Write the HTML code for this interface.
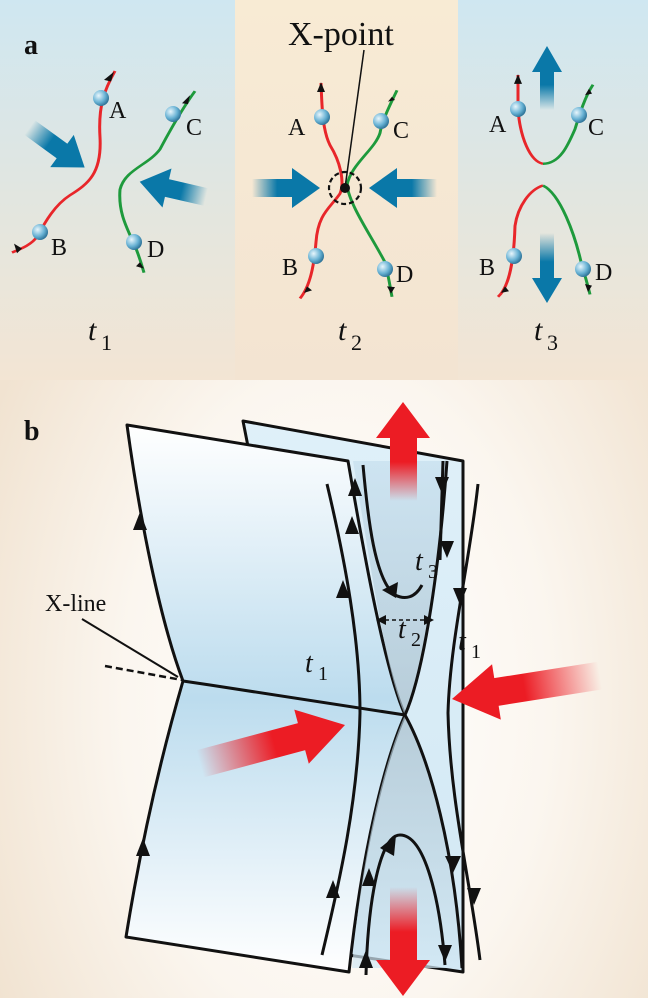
<!DOCTYPE html>
<html><head><meta charset="utf-8"><style>
html,body{margin:0;padding:0;width:648px;height:998px;overflow:hidden;background:#f3e7d6}
svg{display:block}
text{font-family:"Liberation Serif",serif;fill:#111}
</style></head><body>
<svg width="648" height="998" viewBox="0 0 648 998" xmlns="http://www.w3.org/2000/svg">
<defs>
<linearGradient id="bgL" x1="0" y1="0" x2="0" y2="1"><stop offset="0" stop-color="#cfe7f1"/><stop offset="0.55" stop-color="#e3e6df"/><stop offset="1" stop-color="#f3e5d4"/></linearGradient>
<linearGradient id="bgC" x1="0" y1="0" x2="0" y2="1"><stop offset="0" stop-color="#f8ebd4"/><stop offset="1" stop-color="#f3e4d2"/></linearGradient>
<radialGradient id="glow" cx="0.52" cy="0.7" r="0.6"><stop offset="0" stop-color="#ffffff"/><stop offset="0.55" stop-color="#fbf6ef"/><stop offset="1" stop-color="#f1e3d1"/></radialGradient>
<linearGradient id="sheet" x1="0" y1="0" x2="0" y2="1"><stop offset="0" stop-color="#ffffff"/><stop offset="0.5" stop-color="#bcdcee"/><stop offset="1" stop-color="#ffffff"/></linearGradient>
<linearGradient id="back" x1="0" y1="0" x2="0" y2="1"><stop offset="0" stop-color="#dff0f9"/><stop offset="1" stop-color="#d2e8f4"/></linearGradient>
<linearGradient id="grey" x1="0" y1="0" x2="0" y2="1"><stop offset="0" stop-color="#c6dfee"/><stop offset="1" stop-color="#a9bfcc"/></linearGradient>
<linearGradient id="grey2" x1="0" y1="0" x2="0" y2="1"><stop offset="0" stop-color="#a9bfcc"/><stop offset="1" stop-color="#d2e8f4"/></linearGradient>
<linearGradient id="redUp" x1="0" y1="1" x2="0" y2="0"><stop offset="0" stop-color="#ec1c24" stop-opacity="0"/><stop offset="0.6" stop-color="#ec1c24"/></linearGradient>
<linearGradient id="redDn" x1="0" y1="0" x2="0" y2="1"><stop offset="0" stop-color="#ec1c24" stop-opacity="0"/><stop offset="0.6" stop-color="#ec1c24"/></linearGradient>
<linearGradient id="redR" x1="0" y1="0" x2="1" y2="0"><stop offset="0" stop-color="#ec1c24" stop-opacity="0"/><stop offset="0.7" stop-color="#ec1c24"/></linearGradient>
<linearGradient id="blueR" x1="0" y1="0" x2="1" y2="0"><stop offset="0" stop-color="#0a78a8" stop-opacity="0"/><stop offset="0.6" stop-color="#0a78a8"/></linearGradient>
<linearGradient id="blueUp" x1="0" y1="1" x2="0" y2="0"><stop offset="0" stop-color="#0a78a8" stop-opacity="0"/><stop offset="0.6" stop-color="#0a78a8"/></linearGradient>
<linearGradient id="blueDn" x1="0" y1="0" x2="0" y2="1"><stop offset="0" stop-color="#0a78a8" stop-opacity="0"/><stop offset="0.6" stop-color="#0a78a8"/></linearGradient>
<radialGradient id="ball" cx="0.35" cy="0.35" r="0.7"><stop offset="0" stop-color="#e8f6fc"/><stop offset="0.6" stop-color="#68b2d4"/><stop offset="1" stop-color="#2a6f94"/></radialGradient>
<g id="arrowB"><rect x="-40" y="-9" width="42" height="18" fill="url(#blueR)"/><polygon points="0,-20 28,0 0,20" fill="#0a78a8"/></g>
<g id="arrowR"><rect x="-150" y="-14" width="110" height="28" fill="url(#redR)"/><polygon points="-45,-28 0,0 -45,28" fill="#ec1c24"/></g>
</defs>
<rect x="0" y="0" width="648" height="998" fill="url(#glow)"/>
<rect x="0" y="0" width="235" height="380" fill="url(#bgL)"/>
<rect x="235" y="0" width="223" height="380" fill="url(#bgC)"/>
<rect x="458" y="0" width="190" height="380" fill="url(#bgL)"/>
<text x="24" y="54" font-size="28" font-weight="bold">a</text>
<text x="24" y="440" font-size="28" font-weight="bold">b</text>

<!-- panel a blue arrows -->
<use href="#arrowB" transform="translate(62,151) rotate(36)"/>
<use href="#arrowB" transform="translate(167,188) rotate(193)"/>
<use href="#arrowB" transform="translate(292,188)"/>
<use href="#arrowB" transform="translate(397,188) rotate(180)"/>
<rect x="540" y="68" width="14" height="42" fill="url(#blueUp)"/>
<polygon points="547,46 532,72 562,72" fill="#0a78a8"/>
<rect x="540" y="233" width="14" height="48" fill="url(#blueDn)"/>
<polygon points="547,303 532,278 562,278" fill="#0a78a8"/>

<g transform="scale(1,0.8067)">
<path d="M115,88 C105,110 98,130 100,170 C102,215 88,228 70,242 C55,254 45,275 38,292 C32,303 22,308 12,313" fill="none" stroke="#e8262a" stroke-width="3"/>
<path d="M195,113 C185,130 175,150 160,185 C148,205 125,210 120,235 C118,265 128,285 135,305 C140,320 142,330 144,338" fill="none" stroke="#1e9a3c" stroke-width="3"/>
<polygon points="114,89 104,99 111,101" fill="#111"/><polygon points="190,118 182,128 188,129" fill="#111"/>
<polygon points="22,308 14,302 17,314" fill="#111"/><polygon points="140,325 144,333 136,330" fill="#111"/>
<path d="M321,103 C322,130 322,160 330,180 C340,200 345,225 340,240 C330,258 318,265 316,300 C314,330 310,355 300,370" fill="none" stroke="#e8262a" stroke-width="3"/>
<path d="M397,112 C390,130 382,150 380,165 C375,185 350,205 347,230 C350,255 370,290 385,325 C389,345 390,355 392,368" fill="none" stroke="#1e9a3c" stroke-width="3"/>
<polygon points="321,102 317,114 325,114" fill="#111"/><polygon points="392,120 388,126 395,124" fill="#111"/>
<polygon points="307,355 304,363 312,360" fill="#111"/><polygon points="387,355 391,364 395,356" fill="#111"/>
<path d="M518,93 L518,135 C520,170 530,200 543,203" fill="none" stroke="#e8262a" stroke-width="3"/>
<path d="M543,203 C560,203 568,180 575,160 C580,140 585,120 593,105" fill="none" stroke="#1e9a3c" stroke-width="3"/>
<path d="M543,230 C530,235 518,255 515,280 C514,320 510,355 498,368" fill="none" stroke="#e8262a" stroke-width="3"/>
<path d="M543,230 C560,240 575,290 582,330 C586,345 588,355 590,365" fill="none" stroke="#1e9a3c" stroke-width="3"/>
<polygon points="518,92 514,104 522,104" fill="#111"/><polygon points="589,110 585,118 592,116" fill="#111"/>
<polygon points="505,355 501,363 509,361" fill="#111"/><polygon points="585,352 588,362 592,354" fill="#111"/>
</g>
<circle cx="101" cy="98" r="8" fill="url(#ball)"/><circle cx="173" cy="114" r="8" fill="url(#ball)"/>
<circle cx="40" cy="232" r="8" fill="url(#ball)"/><circle cx="134" cy="242" r="8" fill="url(#ball)"/>
<circle cx="322" cy="117" r="8" fill="url(#ball)"/><circle cx="381" cy="121" r="8" fill="url(#ball)"/>
<circle cx="316" cy="256" r="8" fill="url(#ball)"/><circle cx="385" cy="269" r="8" fill="url(#ball)"/>
<circle cx="518" cy="109" r="8" fill="url(#ball)"/><circle cx="579" cy="115" r="8" fill="url(#ball)"/>
<circle cx="514" cy="256" r="8" fill="url(#ball)"/><circle cx="583" cy="269" r="8" fill="url(#ball)"/>

<circle cx="345" cy="188" r="16" fill="none" stroke="#111" stroke-width="2.2" stroke-dasharray="5,3"/>
<circle cx="345" cy="188" r="5" fill="#111"/>
<line x1="345" y1="188" x2="364" y2="50" stroke="#111" stroke-width="1.5"/>
<text x="288" y="45" font-size="34">X-point</text>

<g font-size="24">
<text x="109" y="118">A</text><text x="186" y="135">C</text>
<text x="51" y="255">B</text><text x="147" y="257">D</text>
<text x="288" y="135">A</text><text x="393" y="138">C</text>
<text x="282" y="275">B</text><text x="396" y="282">D</text>
<text x="489" y="132">A</text><text x="588" y="135">C</text>
<text x="479" y="275">B</text><text x="595" y="280">D</text>
</g>
<text x="88" y="340" font-size="30" font-style="italic">t</text><text x="101" y="350" font-size="22">1</text>
<text x="338" y="340" font-size="30" font-style="italic">t</text><text x="351" y="350" font-size="22">2</text>
<text x="534" y="340" font-size="30" font-style="italic">t</text><text x="547" y="350" font-size="22">3</text>

<!-- panel b -->
<polygon points="243,421 463,461 463,972 348,955" fill="url(#back)" stroke="#111" stroke-width="3" stroke-linejoin="round"/>
<path d="M127,425 L348,461 C365,560 385,670 405,715 C385,760 362,850 349,972 L126,937 C140,850 160,760 183,681 C160,620 140,520 127,425 Z" fill="url(#sheet)" stroke="#111" stroke-width="3" stroke-linejoin="round"/>
<path d="M353,461 C370,560 385,670 405,715 C425,670 440,560 447,461 Z" fill="url(#grey)" opacity="0.7"/>
<path d="M405,715 C385,760 362,850 352,968 L462,968 C455,850 430,760 405,715 Z" fill="url(#grey2)" opacity="0.7"/>
<path d="M447,461 C440,560 425,670 405,715 C430,760 455,850 462,968" fill="none" stroke="#111" stroke-width="3"/>
<path d="M183,681 L210,685 L405,715" fill="none" stroke="#111" stroke-width="3"/>
<line x1="82" y1="619" x2="178" y2="677" stroke="#111" stroke-width="2"/>
<line x1="105" y1="666" x2="182" y2="680" stroke="#111" stroke-width="2.5" stroke-dasharray="7,4"/>
<text x="45" y="611" font-size="24">X-line</text>
<polygon points="140,512 133,530 147,530" fill="#111"/><polygon points="143,838 136,856 150,856" fill="#111"/>
<polygon points="352,516 345,534 359,534" fill="#111"/>
<polygon points="369,868 362,886 376,886" fill="#111"/>
<polygon points="453,873 445,856 461,856" fill="#111"/>
<path d="M327,484 C345,560 360,640 360,713 C358,800 340,880 322,955" fill="none" stroke="#111" stroke-width="3"/>
<polygon points="343,580 336,598 350,598" fill="#111"/><polygon points="333,880 326,898 340,898" fill="#111"/>
<path d="M363,465 C368,520 375,580 395,595 C405,600 415,598 422,585" fill="none" stroke="#111" stroke-width="3"/>
<polygon points="355,478 348,496 362,496" fill="#111"/><polygon points="382,590 398,582 396,598" fill="#111"/>
<path d="M443,461 L440,560" fill="none" stroke="#111" stroke-width="3"/>
<polygon points="442,494 435,477 449,477" fill="#111"/><polygon points="447,558 440,541 454,541" fill="#111"/>
<path d="M478,484 C470,560 450,640 448,713 C450,800 470,880 480,960" fill="none" stroke="#111" stroke-width="3"/>
<polygon points="460,605 453,588 467,588" fill="#111"/><polygon points="474,905 467,888 481,888" fill="#111"/>
<path d="M366,975 C368,900 380,835 400,835 C425,835 440,900 445,965" fill="none" stroke="#111" stroke-width="3"/>
<polygon points="366,950 359,968 373,968" fill="#111"/><polygon points="396,835 380,848 394,856" fill="#111"/><polygon points="445,962 438,945 452,945" fill="#111"/>
<line x1="378" y1="620" x2="432" y2="620" stroke="#111" stroke-width="1.5" stroke-dasharray="4,3"/>
<polygon points="376,620 386,615 386,625" fill="#111"/><polygon points="434,620 424,615 424,625" fill="#111"/>
<text x="305" y="672" font-size="28" font-style="italic">t</text><text x="318" y="680" font-size="20">1</text>
<text x="398" y="638" font-size="28" font-style="italic">t</text><text x="411" y="646" font-size="20">2</text>
<text x="415" y="570" font-size="28" font-style="italic">t</text><text x="428" y="578" font-size="20">3</text>
<text x="458" y="650" font-size="28" font-style="italic">t</text><text x="471" y="658" font-size="20">1</text>
<rect x="390" y="436" width="27" height="65" fill="url(#redUp)"/>
<polygon points="403,402 376,438 430,438" fill="#ec1c24"/>
<rect x="390" y="887" width="27" height="75" fill="url(#redDn)"/>
<polygon points="403,996 376,960 430,960" fill="#ec1c24"/>
<use href="#arrowR" transform="translate(345,725) rotate(-15)"/>
<use href="#arrowR" transform="translate(452,699) rotate(171)"/>
</svg>
</body></html>
